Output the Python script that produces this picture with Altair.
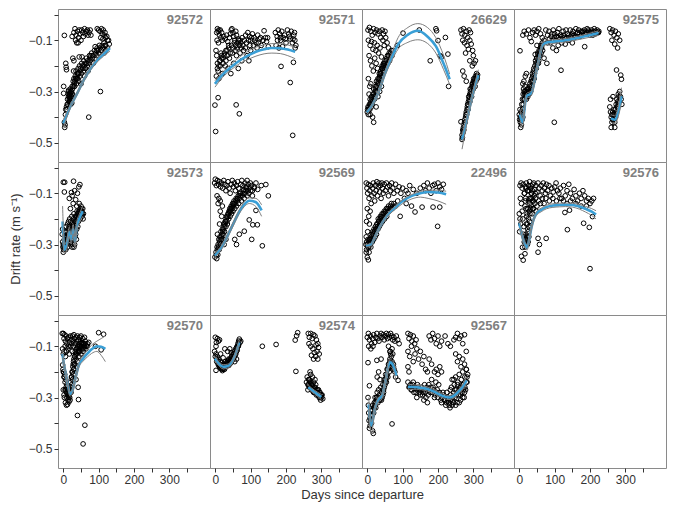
import altair as alt
import pandas as pd

ORDER = ["92572", "92571", "26629", "92575", "92573", "92569", "22496",
         "92576", "92570", "92574", "92567", "blank"]

X_TICKS = [0, 50, 100, 150, 200, 250, 300, 350]
Y_TICKS = [0.0, -0.1, -0.2, -0.3, -0.4, -0.5]

# ---------------- observed points (day, drift rate) ----------------
P_92572 = [
    (25,-0.085),(30,-0.07),(33,-0.055),(36,-0.08),(38,-0.11),(40,-0.065),(43,-0.09),(45,-0.06),
    (47,-0.075),(50,-0.1),(52,-0.06),(55,-0.07),(57,-0.085),(60,-0.055),(62,-0.075),(65,-0.065),
    (68,-0.06),(70,-0.08),(73,-0.07),(76,-0.06),(78,-0.08),(42,-0.11),(35,-0.1),
    (96,-0.055),(100,-0.06),(104,-0.065),(108,-0.055),(110,-0.075),(113,-0.06),(116,-0.08),(118,-0.07),
    (120,-0.09),(123,-0.085),(125,-0.1),(128,-0.1),(130,-0.115),(112,-0.095),(106,-0.09),(102,-0.12),
    (96,-0.13),(90,-0.125),(115,-0.11),(120,-0.12),(125,-0.13),
    (3,-0.081),(1,-0.28),(1,-0.307),(7,-0.19),(8,-0.205),(9,-0.215),
    (3,-0.42),(4,-0.44),(5,-0.43),(6,-0.39),(7,-0.37),(9,-0.36),(11,-0.35),(12,-0.33),(14,-0.31),
    (15,-0.32),(16,-0.3),(17,-0.33),(18,-0.34),(19,-0.31),(20,-0.29),(21,-0.35),(22,-0.32),(23,-0.3),
    (25,-0.28),(26,-0.31),(24,-0.345),(28,-0.26),(30,-0.25),(32,-0.28),(34,-0.24),(36,-0.22),(38,-0.25),
    (40,-0.23),(42,-0.21),(44,-0.26),(46,-0.2),(48,-0.22),(50,-0.27),(52,-0.19),(55,-0.21),(58,-0.18),
    (60,-0.24),(62,-0.19),(65,-0.17),(68,-0.2),(70,-0.22),(72,-0.4),(74,-0.16),(76,-0.18),(80,-0.15),
    (82,-0.17),(85,-0.19),(88,-0.14),(92,-0.15),(95,-0.16),(98,-0.14),(105,-0.3),(108,-0.14),(110,-0.12),
    (115,-0.15),(120,-0.14),(27,-0.17),(30,-0.18),(45,-0.165),(53,-0.165),(29,-0.22),
]
E_92572 = [
    (10,-0.37),(13,-0.35),(16,-0.34),(18,-0.32),(20,-0.33),(22,-0.3),(24,-0.31),(26,-0.29),(28,-0.28),
    (31,-0.27),(33,-0.26),(35,-0.25),(37,-0.27),(39,-0.24),(41,-0.25),(43,-0.23),(47,-0.24),(49,-0.21),
    (51,-0.23),(54,-0.2),(57,-0.22),(59,-0.2),(63,-0.21),(66,-0.19),(69,-0.18),(72,-0.19),(75,-0.17),
    (78,-0.16),(84,-0.16),(90,-0.17),(94,-0.14),(100,-0.15),(104,-0.13),(112,-0.13),(118,-0.12),
    (15,-0.295),(17,-0.31),(19,-0.325),(21,-0.305),(23,-0.32),
]
P_92571 = [
    (4,-0.07),(6,-0.055),(8,-0.065),(10,-0.06),(12,-0.08),(14,-0.06),(16,-0.09),(18,-0.07),(5,-0.1),
    (9,-0.11),(20,-0.1),(24,-0.085),(28,-0.095),(32,-0.08),(35,-0.105),(38,-0.12),(40,-0.09),(43,-0.075),
    (45,-0.06),(47,-0.055),(50,-0.07),(52,-0.085),(55,-0.1),(58,-0.065),(60,-0.08),(62,-0.11),(65,-0.095),
    (68,-0.12),(70,-0.1),(73,-0.13),
    (2,-0.14),(4,-0.16),(6,-0.19),(8,-0.22),(10,-0.25),(3,-0.24),(12,-0.18),(14,-0.2),(16,-0.15),
    (18,-0.17),(20,-0.23),(22,-0.19),(25,-0.16),(28,-0.2),(30,-0.18),(33,-0.14),(36,-0.21),(40,-0.17),
    (44,-0.23),(48,-0.15),(52,-0.19),(56,-0.14),(60,-0.16),(65,-0.21),(70,-0.15),(75,-0.18),(80,-0.14),
    (85,-0.13),(90,-0.16),(95,-0.18),(100,-0.14),(78,-0.12),(88,-0.11),
    (92,-0.07),(97,-0.085),(100,-0.1),(105,-0.075),(110,-0.09),(115,-0.11),(120,-0.08),(125,-0.095),
    (130,-0.12),(138,-0.063),(145,-0.105),(150,-0.125),(108,-0.12),(118,-0.13),
    (170,-0.07),(175,-0.085),(178,-0.06),(182,-0.075),(185,-0.1),(188,-0.065),(192,-0.09),(196,-0.08),
    (200,-0.11),(204,-0.06),(208,-0.075),(212,-0.095),(215,-0.065),(218,-0.11),(222,-0.08),(225,-0.1),
    (228,-0.12),(226,-0.13),(172,-0.12),(180,-0.13),(190,-0.125),
    (-1,-0.353),(8,-0.324),(59,-0.352),(68,-0.387),(1,-0.456),(219,-0.471),(212,-0.265),(186,-0.202),
    (221,-0.186),
]
E_92571 = [
    (6,-0.21),(10,-0.2),(14,-0.18),(18,-0.16),(22,-0.17),(26,-0.15),(30,-0.14),(34,-0.16),(38,-0.13),
    (42,-0.15),(46,-0.12),(50,-0.13),(54,-0.11),(58,-0.12),(62,-0.13),(66,-0.1),(72,-0.11),(76,-0.09),
    (82,-0.1),(86,-0.08),(94,-0.1),(98,-0.12),(102,-0.09),(112,-0.1),(122,-0.11),(128,-0.09),(135,-0.1),
    (142,-0.09),(148,-0.09),(176,-0.1),(184,-0.09),(198,-0.095),(210,-0.085),(220,-0.095),(224,-0.07),
]
P_26629 = [
    (2,-0.06),(6,-0.05),(10,-0.065),(14,-0.08),(18,-0.055),(22,-0.07),(26,-0.06),(30,-0.075),(34,-0.065),
    (38,-0.09),(3,-0.1),(8,-0.12),(12,-0.105),(16,-0.135),(20,-0.11),(24,-0.14),(28,-0.12),(32,-0.15),
    (36,-0.13),(40,-0.165),(5,-0.16),(9,-0.18),(13,-0.2),(17,-0.22),(21,-0.17),(25,-0.19),(29,-0.21),
    (44,-0.1),(48,-0.12),(52,-0.09),(56,-0.11),(60,-0.13),(42,-0.06),(46,-0.075),(50,-0.065),(3,-0.25),
    (7,-0.28),(5,-0.31),(10,-0.27),
    (0,-0.38),(2,-0.36),(4,-0.37),(6,-0.35),(8,-0.33),(10,-0.34),(12,-0.32),(14,-0.35),(16,-0.31),
    (18,-0.29),(20,-0.33),(22,-0.3),(24,-0.28),(26,-0.26),(28,-0.3),(30,-0.25),(32,-0.27),(34,-0.23),
    (36,-0.25),(38,-0.22),(40,-0.24),(42,-0.2),(44,-0.22),(46,-0.19),(48,-0.21),(50,-0.18),(52,-0.2),
    (55,-0.17),(58,-0.19),(60,-0.16),(63,-0.18),(66,-0.15),(70,-0.16),(73,-0.14),(15,-0.4),(18,-0.42),
    (8,-0.39),(25,-0.36),(30,-0.32),(35,-0.3),(40,-0.28),
    (85,-0.12),(101,-0.072),(147,-0.06),(194,-0.055),(196,-0.063),(200,-0.101),(221,-0.089),(178,-0.18),
    (206,-0.16),(228,-0.154),(230,-0.28),(210,-0.165),
    (265,-0.06),(268,-0.075),(272,-0.055),(276,-0.08),(280,-0.065),(284,-0.09),(288,-0.06),(292,-0.07),
    (270,-0.1),(275,-0.11),(282,-0.12),(290,-0.1),(294,-0.115),(298,-0.14),(300,-0.16),(302,-0.19),
    (306,-0.18),(286,-0.135),(278,-0.15),(290,-0.18),(297,-0.2),(270,-0.22),(274,-0.24),(280,-0.26),
    (268,-0.487),(268,-0.47),(270,-0.45),(272,-0.44),(274,-0.43),(276,-0.41),(278,-0.4),(280,-0.38),
    (282,-0.37),(284,-0.35),(286,-0.34),(288,-0.33),(290,-0.31),(292,-0.3),(294,-0.29),(296,-0.28),
    (298,-0.27),(300,-0.26),(302,-0.26),(304,-0.25),(306,-0.24),(308,-0.25),(310,-0.24),(312,-0.235),
    (285,-0.37),(290,-0.34),(295,-0.32),(300,-0.29),(305,-0.28),(265,-0.418),
]
E_26629 = [
    (1,-0.37),(3,-0.39),(5,-0.36),(7,-0.37),(9,-0.35),(11,-0.36),(13,-0.33),(15,-0.34),(17,-0.32),
    (19,-0.31),(21,-0.32),(23,-0.29),(25,-0.3),(27,-0.28),(29,-0.27),(31,-0.26),(33,-0.25),(35,-0.24),
    (37,-0.23),(39,-0.23),(41,-0.21),(43,-0.21),(45,-0.2),(47,-0.2),(49,-0.19),(54,-0.18),(57,-0.16),
    (62,-0.15),(68,-0.14),
    (269,-0.48),(271,-0.46),(273,-0.45),(275,-0.42),(277,-0.42),(279,-0.39),(281,-0.39),(283,-0.36),
    (285,-0.35),(287,-0.32),(289,-0.32),(291,-0.29),(293,-0.31),(297,-0.27),(299,-0.28),(301,-0.25),
    (303,-0.27),(307,-0.26),(309,-0.23),(311,-0.25),
]
P_92575 = [
    (0,-0.39),(1,-0.41),(3,-0.42),(4,-0.44),(6,-0.43),(8,-0.41),(10,-0.4),(2,-0.37),(5,-0.38),(7,-0.35),
    (9,-0.33),(11,-0.31),(12,-0.29),(14,-0.3),(16,-0.28),(18,-0.31),(20,-0.33),(22,-0.3),(24,-0.32),
    (26,-0.29),(28,-0.31),(30,-0.27),(32,-0.3),(34,-0.28),(13,-0.26),(17,-0.24),(20,-0.23),(10,-0.27),
    (15,-0.33),
    (36,-0.26),(38,-0.24),(40,-0.22),(42,-0.25),(44,-0.2),(46,-0.18),(48,-0.21),(50,-0.17),(52,-0.15),
    (54,-0.19),(56,-0.14),(58,-0.16),(60,-0.13),(62,-0.15),(64,-0.12),(66,-0.14),(45,-0.155),(55,-0.18),
    (70,-0.17),(78,-0.19),(50,-0.12),
    (2,-0.141),(10,-0.08),(14,-0.065),(20,-0.075),(26,-0.06),(30,-0.09),(34,-0.105),(38,-0.07),(42,-0.06),
    (46,-0.08),(50,-0.065),(55,-0.055),(60,-0.075),(65,-0.09),(70,-0.1),(75,-0.06),(80,-0.08),(84,-0.065),
    (88,-0.11),(92,-0.075),(96,-0.06),(100,-0.09),(104,-0.1),(108,-0.07),(112,-0.055),(116,-0.08),
    (120,-0.11),(124,-0.065),(128,-0.09),(132,-0.06),(136,-0.075),(140,-0.1),(144,-0.06),(148,-0.08),
    (152,-0.065),(156,-0.09),(160,-0.055),(164,-0.075),(168,-0.06),(172,-0.085),(176,-0.065),(180,-0.07),
    (184,-0.06),(188,-0.075),(192,-0.055),(196,-0.065),(200,-0.07),(204,-0.06),(208,-0.08),(212,-0.055),
    (216,-0.065),(220,-0.06),(224,-0.07),(185,-0.125),(110,-0.12),(95,-0.13),(130,-0.115),(150,-0.11),
    (105,-0.14),(80,-0.11),(118,-0.217),(99,-0.42),
    (256,-0.055),(260,-0.07),(264,-0.06),(268,-0.08),(272,-0.065),(276,-0.09),(280,-0.075),(284,-0.1),
    (262,-0.1),(270,-0.115),(278,-0.13),(275,-0.216),(287,-0.236),(289,-0.252),
    (256,-0.36),(258,-0.38),(260,-0.4),(262,-0.42),(264,-0.41),(266,-0.39),(268,-0.4),(270,-0.42),
    (272,-0.37),(274,-0.35),(276,-0.33),(278,-0.36),(280,-0.31),(282,-0.34),(284,-0.3),(286,-0.32),
    (288,-0.33),(260,-0.44),(270,-0.44),(290,-0.35),(258,-0.33),(265,-0.32),
]
E_92575 = [
    (85,-0.095),(90,-0.085),(95,-0.1),(100,-0.075),(105,-0.085),(110,-0.09),(115,-0.095),(120,-0.085),
    (125,-0.08),(130,-0.095),(135,-0.09),(140,-0.08),(145,-0.085),(150,-0.075),(155,-0.08),(160,-0.085),
    (165,-0.07),(170,-0.075),(175,-0.08),(180,-0.065),(185,-0.075),(190,-0.07),(195,-0.06),(200,-0.08),
    (205,-0.07),(210,-0.065),(215,-0.075),(220,-0.07),(225,-0.065),
    (3,-0.4),(5,-0.41),(7,-0.39),(9,-0.37),(11,-0.35),(13,-0.33),(15,-0.31),(17,-0.3),(19,-0.32),
    (21,-0.31),(23,-0.29),(25,-0.31),(27,-0.3),(29,-0.28),(31,-0.29),(33,-0.26),(35,-0.25),(37,-0.23),
    (39,-0.26),(41,-0.21),(43,-0.23),(47,-0.19),(49,-0.17),(51,-0.19),(53,-0.16),(57,-0.15),(59,-0.14),
    (61,-0.12),(63,-0.13),(65,-0.11),
    (262,-0.39),(264,-0.38),(266,-0.41),(268,-0.37),(270,-0.39),(272,-0.4),(274,-0.38),(276,-0.36),
    (278,-0.34),(280,-0.35),(282,-0.32),
]
P_92573 = [
    (0,-0.057),(4,-0.057),(3,-0.095),(29,-0.053),(47,-0.066),(23,-0.097),(17,-0.12),(25,-0.11),(32,-0.09),
    (40,-0.1),(44,-0.075),(35,-0.125),(28,-0.14),(20,-0.16),(38,-0.15),(45,-0.14),(50,-0.15),(52,-0.17),
    (55,-0.16),(57,-0.18),
    (-3,-0.26),(-2,-0.29),(-1,-0.31),(0,-0.33),(1,-0.32),(2,-0.3),(3,-0.28),(4,-0.31),(5,-0.27),(6,-0.25),
    (7,-0.29),(8,-0.23),(9,-0.27),(10,-0.3),(11,-0.25),(12,-0.22),(13,-0.28),(14,-0.24),(15,-0.21),
    (16,-0.26),(17,-0.23),(18,-0.2),(19,-0.27),(20,-0.24),(21,-0.21),(22,-0.29),(23,-0.25),(24,-0.19),
    (25,-0.22),(26,-0.3),(27,-0.26),(28,-0.2),(29,-0.23),(30,-0.18),(31,-0.27),(32,-0.3),(33,-0.21),
    (34,-0.25),(35,-0.19),(36,-0.22),(37,-0.28),(38,-0.24),(39,-0.17),(40,-0.2),(41,-0.23),(42,-0.18),
    (43,-0.21),(44,-0.19),(46,-0.17),(48,-0.2),(50,-0.18),(53,-0.19),(56,-0.2),(7,-0.32),(12,-0.31),
    (25,-0.31),(30,-0.31),(-2,-0.24),
]
E_92573 = [
    (0,-0.3),(2,-0.31),(4,-0.29),(6,-0.3),(8,-0.28),(10,-0.27),(12,-0.26),(14,-0.27),(16,-0.28),
    (18,-0.25),(20,-0.27),(22,-0.26),(24,-0.24),(26,-0.23),(28,-0.25),(30,-0.22),(32,-0.24),(34,-0.2),
    (36,-0.21),(38,-0.19),(40,-0.18),(42,-0.2),(44,-0.17),(46,-0.19),(48,-0.16),(50,-0.17),(52,-0.16),
    (54,-0.18),(5,-0.3),(9,-0.29),(15,-0.29),(19,-0.29),(23,-0.28),(27,-0.28),(33,-0.27),(35,-0.26),
]
P_92569 = [
    (-2,-0.06),(0,-0.045),(3,-0.07),(6,-0.05),(9,-0.065),(12,-0.055),(15,-0.075),(18,-0.06),(21,-0.08),
    (24,-0.05),(27,-0.065),(30,-0.09),(33,-0.07),(36,-0.055),(39,-0.08),(42,-0.1),(45,-0.065),(48,-0.05),
    (51,-0.075),(54,-0.06),(57,-0.09),(60,-0.07),(63,-0.055),(66,-0.08),(69,-0.1),(72,-0.065),(75,-0.05),
    (78,-0.07),(81,-0.085),(84,-0.06),(87,-0.075),(90,-0.05),(93,-0.065),(96,-0.08),(99,-0.06),(102,-0.07),
    (105,-0.09),(110,-0.075),(115,-0.06),(120,-0.085),(130,-0.07),(143,-0.066),(150,-0.11),(5,-0.11),
    (10,-0.12),(14,-0.13),(20,-0.15),
    (-1,-0.349),(4,-0.355),(2,-0.33),(5,-0.31),(7,-0.34),(8,-0.3),(10,-0.28),(11,-0.32),(13,-0.27),
    (15,-0.3),(16,-0.25),(18,-0.28),(20,-0.24),(22,-0.26),(24,-0.22),(26,-0.25),(28,-0.21),(30,-0.23),
    (32,-0.19),(34,-0.22),(36,-0.18),(38,-0.2),(40,-0.17),(42,-0.19),(44,-0.16),(46,-0.18),(48,-0.15),
    (50,-0.17),(52,-0.14),(55,-0.16),(58,-0.13),(60,-0.15),(63,-0.12),(66,-0.14),(70,-0.11),(74,-0.13),
    (78,-0.1),(82,-0.12),(86,-0.09),(90,-0.11),(95,-0.1),(100,-0.09),(105,-0.11),(110,-0.08),(12,-0.22),
    (18,-0.19),(25,-0.3),(30,-0.28),(6,-0.26),(14,-0.17),(8,-0.14),
    (96,-0.204),(106,-0.223),(119,-0.223),(82,-0.248),(68,-0.26),(55,-0.28),(103,-0.28),(133,-0.305),
    (115,-0.167),(60,-0.3),
]
E_92569 = [
    (3,-0.34),(6,-0.32),(9,-0.31),(12,-0.29),(14,-0.28),(17,-0.27),(19,-0.26),(21,-0.25),(23,-0.24),
    (25,-0.23),(27,-0.22),(29,-0.21),(31,-0.2),(33,-0.21),(35,-0.19),(37,-0.18),(39,-0.17),(41,-0.16),
    (43,-0.17),(45,-0.15),(47,-0.16),(49,-0.14),(51,-0.15),(53,-0.13),(56,-0.14),(59,-0.12),(62,-0.13),
    (65,-0.11),(68,-0.12),(72,-0.1),(76,-0.11),(80,-0.09),(84,-0.1),(88,-0.08),(92,-0.09),
]
P_22496 = [
    (-4,-0.3),(-3,-0.33),(-2,-0.32),(0,-0.35),(2,-0.31),(4,-0.29),(5,-0.33),(7,-0.3),(9,-0.28),(10,-0.31),
    (12,-0.27),(14,-0.29),(16,-0.26),(18,-0.28),(20,-0.25),(22,-0.27),(24,-0.24),(26,-0.26),(28,-0.22),
    (30,-0.24),(32,-0.21),(34,-0.23),(36,-0.2),(38,-0.22),(40,-0.19),(43,-0.21),(46,-0.18),(49,-0.2),
    (52,-0.17),(55,-0.19),(58,-0.16),(62,-0.17),(66,-0.15),(70,-0.16),(75,-0.14),(80,-0.15),(86,-0.13),
    (-3,-0.27),(1,-0.25),(6,-0.22),(3,-0.36),
    (-3,-0.06),(-1,-0.08),(1,-0.1),(3,-0.065),(5,-0.12),(7,-0.09),(9,-0.07),(11,-0.14),(13,-0.11),
    (15,-0.08),(17,-0.06),(19,-0.1),(21,-0.13),(23,-0.07),(25,-0.09),(27,-0.055),(29,-0.11),(31,-0.075),
    (33,-0.06),(35,-0.095),(37,-0.07),(39,-0.12),(41,-0.06),(43,-0.08),(45,-0.1),(48,-0.065),(51,-0.09),
    (54,-0.06),(57,-0.075),(60,-0.11),(63,-0.07),(66,-0.09),(69,-0.06),(72,-0.08),(75,-0.1),(80,-0.065),
    (85,-0.09),(90,-0.075),(95,-0.1),(100,-0.08),(105,-0.12),(110,-0.09),(115,-0.1),(120,-0.07),
    (130,-0.085),(140,-0.1),(150,-0.08),(160,-0.07),(165,-0.09),(170,-0.06),(175,-0.08),(180,-0.1),
    (185,-0.07),(190,-0.065),(195,-0.09),(200,-0.06),(205,-0.075),(210,-0.085),(215,-0.065),(0,-0.16),
    (4,-0.19),(8,-0.17),(-2,-0.21),
    (135,-0.173),(155,-0.154),(186,-0.154),(205,-0.154),(199,-0.229),(93,-0.19),(110,-0.14),(125,-0.15),
]
E_22496 = [
    (-2,-0.29),(0,-0.3),(2,-0.28),(4,-0.31),(6,-0.28),(8,-0.29),(11,-0.26),(13,-0.28),(15,-0.25),
    (17,-0.26),(19,-0.24),(21,-0.25),(23,-0.23),(25,-0.24),(27,-0.22),(29,-0.23),(31,-0.2),(33,-0.21),
    (35,-0.22),(37,-0.19),(39,-0.2),(42,-0.18),(45,-0.19),(48,-0.17),(51,-0.18),(54,-0.16),(57,-0.17),
    (60,-0.15),(64,-0.16),(68,-0.14),(73,-0.15),
]
P_92576 = [
    (2,-0.07),(5,-0.06),(8,-0.08),(11,-0.065),(14,-0.1),(17,-0.075),(20,-0.06),(23,-0.09),(26,-0.07),
    (29,-0.055),(32,-0.08),(35,-0.1),(38,-0.065),(41,-0.06),(44,-0.085),(47,-0.07),(50,-0.095),(53,-0.06),
    (56,-0.08),(59,-0.11),(62,-0.07),(65,-0.09),(68,-0.06),(71,-0.08),(74,-0.1),(77,-0.065),(80,-0.09),
    (84,-0.07),(88,-0.11),(92,-0.08),(96,-0.095),(100,-0.075),(104,-0.06),(108,-0.09),(112,-0.1),
    (116,-0.08),(120,-0.12),(125,-0.07),(130,-0.11),(135,-0.09),(140,-0.065),(145,-0.1),(150,-0.12),
    (155,-0.085),(160,-0.11),(165,-0.13),(170,-0.1),(175,-0.12),(180,-0.09),(185,-0.11),(190,-0.13),
    (195,-0.12),(200,-0.14),(205,-0.13),(210,-0.12),(3,-0.12),(6,-0.14),(0,-0.18),(2,-0.2),(4,-0.22),
    (1,-0.25),
    (15,-0.1),(17,-0.13),(19,-0.16),(21,-0.19),(23,-0.22),(25,-0.25),(18,-0.28),(20,-0.3),(22,-0.27),
    (24,-0.24),(26,-0.2),(28,-0.17),(30,-0.14),(32,-0.12),(34,-0.15),(36,-0.18),(38,-0.13),(40,-0.16),
    (42,-0.11),(44,-0.14),(46,-0.12),(48,-0.17),(50,-0.15),(12,-0.26),(14,-0.29),(16,-0.31),(27,-0.23),
    (29,-0.21),(10,-0.2),(8,-0.17),
    (9,-0.311),(6,-0.346),(11,-0.361),(16,-0.336),(53,-0.33),(57,-0.3),(53,-0.276),(76,-0.276),
    (136,-0.242),(182,-0.217),(198,-0.233),(200,-0.394),(129,-0.175),(142,-0.166),(207,-0.191),
]
E_92576 = [
    (13,-0.23),(15,-0.27),(17,-0.29),(19,-0.26),(21,-0.28),(23,-0.3),(25,-0.29),(27,-0.27),(20,-0.22),
    (22,-0.18),(24,-0.16),(26,-0.13),(28,-0.12),(30,-0.18),(32,-0.16),(34,-0.1),(36,-0.12),(38,-0.16),
    (40,-0.13),(18,-0.12),(16,-0.15),(20,-0.08),(24,-0.09),(28,-0.09),(33,-0.07),(37,-0.09),(45,-0.1),
    (55,-0.13),(60,-0.14),(65,-0.12),(70,-0.14),(75,-0.12),(85,-0.13),(95,-0.12),(105,-0.13),(115,-0.12),
    (125,-0.13),(135,-0.14),(145,-0.13),(160,-0.14),(175,-0.15),(190,-0.15),
]
P_92570 = [
    (-3,-0.05),(0,-0.05),(2,-0.07),(4,-0.055),(6,-0.08),(8,-0.06),(10,-0.09),(12,-0.07),(14,-0.1),
    (16,-0.065),(18,-0.085),(20,-0.06),(22,-0.075),(24,-0.09),(26,-0.06),(28,-0.08),(30,-0.055),(32,-0.07),
    (34,-0.09),(36,-0.065),(38,-0.08),(40,-0.06),(42,-0.075),(44,-0.09),(46,-0.065),(48,-0.08),(50,-0.06),
    (52,-0.085),(55,-0.07),(58,-0.09),(60,-0.065),(62,-0.08),(65,-0.1),(68,-0.09),(72,-0.085),(-2,-0.11),
    (0,-0.13),(3,-0.12),(6,-0.14),(100,-0.047),(114,-0.053),(107,-0.114),(91,-0.1),
    (-2,-0.173),(-1,-0.19),(1,-0.2),(2,-0.22),(4,-0.21),(5,-0.24),(7,-0.23),(8,-0.26),(10,-0.25),
    (11,-0.27),(12,-0.29),(14,-0.28),(15,-0.3),(17,-0.29),(18,-0.27),(19,-0.31),(20,-0.26),(21,-0.24),
    (22,-0.28),(23,-0.22),(24,-0.25),(25,-0.2),(26,-0.23),(27,-0.18),(28,-0.21),(29,-0.16),(30,-0.19),
    (32,-0.14),(33,-0.17),(34,-0.12),(36,-0.15),(38,-0.13),(40,-0.16),(42,-0.11),(44,-0.14),(46,-0.12),
    (48,-0.1),(50,-0.13),(53,-0.11),(56,-0.12),(60,-0.1),(64,-0.11),(68,-0.1),(3,-0.3),(6,-0.32),
    (9,-0.33),(12,-0.327),(16,-0.317),(0,-0.27),(2,-0.29),
    (40,-0.37),(61,-0.408),(56,-0.481),(43,-0.308),(42,-0.26),(36,-0.23),
]
E_92570 = [
    (0,-0.2),(3,-0.22),(5,-0.27),(7,-0.27),(9,-0.28),(10,-0.3),(13,-0.31),(15,-0.27),(16,-0.29),
    (18,-0.3),(20,-0.28),(21,-0.27),(23,-0.26),(24,-0.22),(26,-0.2),(28,-0.17),(29,-0.19),(30,-0.15),
    (31,-0.17),(33,-0.14),(35,-0.13),(37,-0.11),(39,-0.12),(41,-0.1),(43,-0.12),(45,-0.1),(47,-0.11),
    (50,-0.09),(52,-0.1),(55,-0.09),(58,-0.11),(62,-0.09),(5,-0.1),(9,-0.12),(13,-0.11),(17,-0.13),
    (21,-0.1),(25,-0.12),(29,-0.1),
]
P_92574 = [
    (0,-0.065),(3,-0.085),(6,-0.07),(9,-0.08),(12,-0.075),(2,-0.1),(-2,-0.12),(0,-0.14),(2,-0.13),
    (4,-0.15),(6,-0.14),(8,-0.16),(10,-0.15),(12,-0.17),(14,-0.16),(16,-0.175),(18,-0.165),(20,-0.18),
    (22,-0.17),(24,-0.185),(26,-0.175),(28,-0.16),(30,-0.18),(32,-0.165),(34,-0.17),(36,-0.155),
    (38,-0.175),(40,-0.16),(42,-0.15),(44,-0.165),(46,-0.14),(48,-0.155),(50,-0.13),(52,-0.145),
    (54,-0.12),(56,-0.135),(58,-0.11),(60,-0.12),(62,-0.1),(64,-0.09),(66,-0.08),(68,-0.072),(70,-0.085),
    (72,-0.08),(2,-0.194),(27,-0.11),(41,-0.11),(35,-0.12),(15,-0.13),(22,-0.145),(45,-0.125),(55,-0.16),
    (60,-0.15),(65,-0.1),
    (133,-0.1),(172,-0.093),(228,-0.198),(226,-0.076),(230,-0.059),(233,-0.047),
    (263,-0.05),(266,-0.065),(270,-0.05),(274,-0.07),(278,-0.055),(282,-0.06),(286,-0.075),(290,-0.09),
    (265,-0.09),(270,-0.1),(276,-0.11),(280,-0.125),(284,-0.14),(288,-0.12),(292,-0.105),(294,-0.13),
    (272,-0.135),(278,-0.15),(290,-0.15),(285,-0.095),
    (258,-0.24),(260,-0.22),(262,-0.25),(264,-0.23),(266,-0.26),(268,-0.24),(270,-0.21),(272,-0.25),
    (274,-0.27),(276,-0.26),(278,-0.24),(280,-0.28),(282,-0.26),(284,-0.25),(286,-0.28),(288,-0.27),
    (290,-0.29),(292,-0.27),(294,-0.3),(296,-0.28),(298,-0.29),(300,-0.3),(302,-0.29),(304,-0.305),
    (268,-0.2),(275,-0.22),(282,-0.23),(262,-0.27),
]
E_92574 = [
    (4,-0.16),(8,-0.17),(10,-0.175),(12,-0.18),(14,-0.185),(16,-0.185),(18,-0.19),(20,-0.195),(22,-0.19),
    (24,-0.175),(26,-0.19),(28,-0.18),(30,-0.17),(32,-0.175),(34,-0.16),(36,-0.165),(38,-0.15),(40,-0.17),
    (42,-0.16),(44,-0.15),(46,-0.155),(48,-0.14),(50,-0.15),(52,-0.13),(54,-0.14),(56,-0.125),(58,-0.13),
    (60,-0.105),(62,-0.115),(64,-0.1),(66,-0.095),
    (264,-0.25),(268,-0.26),(270,-0.24),(272,-0.27),(276,-0.27),(278,-0.28),(280,-0.26),(284,-0.27),
    (286,-0.29),(288,-0.28),(290,-0.27),(292,-0.29),(294,-0.28),(296,-0.3),(298,-0.31),(300,-0.29),
    (266,-0.23),(274,-0.25),(282,-0.28),
]
P_92567 = [
    (0,-0.065),(3,-0.05),(6,-0.075),(9,-0.06),(12,-0.09),(15,-0.07),(18,-0.055),(21,-0.085),(24,-0.065),
    (27,-0.05),(30,-0.07),(33,-0.08),(36,-0.06),(39,-0.05),(42,-0.065),(45,-0.055),(48,-0.075),(51,-0.06),
    (54,-0.05),(57,-0.07),(60,-0.055),(63,-0.065),(66,-0.05),(69,-0.06),(72,-0.075),(75,-0.065),(78,-0.08),
    (82,-0.06),(86,-0.075),(90,-0.09),(4,-0.1),(10,-0.11),(16,-0.1),(2,-0.164),(6,-0.254),(27,-0.155),
    (39,-0.15),(70,-0.403),(17,-0.44),(15,-0.43),(87,-0.233),(60,-0.1),(65,-0.12),(70,-0.11),
    (2,-0.3),(3,-0.33),(4,-0.36),(5,-0.39),(6,-0.42),(8,-0.38),(10,-0.35),(12,-0.4),(14,-0.37),(16,-0.33),
    (18,-0.36),(20,-0.32),(22,-0.3),(24,-0.34),(26,-0.31),(28,-0.28),(30,-0.32),(32,-0.27),(34,-0.29),
    (36,-0.31),(38,-0.26),(40,-0.28),(42,-0.3),(44,-0.25),(46,-0.27),(48,-0.23),(50,-0.25),(52,-0.21),
    (54,-0.24),(56,-0.19),(58,-0.22),(60,-0.17),(62,-0.2),(64,-0.15),(66,-0.18),(68,-0.14),(70,-0.16),
    (72,-0.13),(74,-0.17),(76,-0.19),(78,-0.2),(80,-0.22),(66,-0.13),(64,-0.12),(28,-0.22),(32,-0.2),
    (36,-0.23),
    (115,-0.05),(118,-0.07),(122,-0.055),(126,-0.08),(130,-0.06),(134,-0.09),(138,-0.075),(115,-0.12),
    (120,-0.14),(125,-0.1),(130,-0.16),(135,-0.13),(140,-0.11),(145,-0.15),(150,-0.12),(155,-0.17),
    (160,-0.14),(165,-0.19),(175,-0.06),(180,-0.075),(185,-0.05),(190,-0.07),(195,-0.09),(200,-0.06),
    (205,-0.1),(210,-0.08),(220,-0.06),(228,-0.09),(235,-0.1),(245,-0.075),(250,-0.065),(255,-0.05),
    (260,-0.07),(265,-0.06),(270,-0.09),(275,-0.055),(280,-0.12),(250,-0.13),(255,-0.16),(260,-0.14),
    (265,-0.18),(270,-0.15),(275,-0.17),(280,-0.19),(115,-0.18),(118,-0.2),(175,-0.15),(182,-0.17),
    (190,-0.2),(195,-0.19),(200,-0.21),(205,-0.18),(210,-0.2),(170,-0.2),
    (115,-0.24),(118,-0.26),(122,-0.25),(126,-0.27),(130,-0.24),(134,-0.26),(138,-0.28),(142,-0.25),
    (146,-0.27),(150,-0.29),(154,-0.26),(158,-0.28),(162,-0.25),(166,-0.3),(170,-0.27),(174,-0.25),
    (178,-0.28),(182,-0.23),(186,-0.26),(190,-0.3),(194,-0.24),(198,-0.27),(202,-0.25),(206,-0.29),
    (210,-0.32),(214,-0.28),(218,-0.31),(222,-0.33),(226,-0.3),(230,-0.32),(234,-0.34),(236,-0.29),
    (238,-0.26),(240,-0.23),(242,-0.31),(244,-0.28),(246,-0.25),(248,-0.3),(250,-0.22),(252,-0.27),
    (254,-0.32),(256,-0.24),(258,-0.29),(260,-0.21),(262,-0.26),(264,-0.31),(266,-0.23),(268,-0.28),
    (270,-0.2),(272,-0.25),(274,-0.3),(276,-0.22),(278,-0.27),(280,-0.19),(282,-0.24),(284,-0.21),
    (240,-0.33),(250,-0.33),(260,-0.32),(170,-0.32),(160,-0.31),(140,-0.3),
]
E_92567 = [
    (8,-0.41),(10,-0.39),(12,-0.37),(14,-0.35),(18,-0.34),(20,-0.34),(22,-0.33),(24,-0.32),(26,-0.3),
    (30,-0.3),(34,-0.31),(38,-0.3),(40,-0.31),(44,-0.29),(46,-0.28),(48,-0.26),(50,-0.24),(52,-0.23),
    (54,-0.22),(56,-0.21),(58,-0.19),(60,-0.18),(62,-0.17),(64,-0.16),(66,-0.16),(68,-0.17),(70,-0.18),
    (72,-0.19),(74,-0.18),
    (120,-0.26),(124,-0.27),(128,-0.25),(132,-0.28),(136,-0.26),(140,-0.27),(144,-0.26),(148,-0.28),
    (152,-0.27),(156,-0.29),(160,-0.27),(164,-0.28),(168,-0.26),(172,-0.29),(176,-0.27),(180,-0.26),
    (184,-0.28),(188,-0.27),(192,-0.29),(196,-0.28),(200,-0.3),(204,-0.28),(208,-0.31),(212,-0.3),
    (216,-0.29),(220,-0.31),(224,-0.32),(228,-0.31),(232,-0.33),(236,-0.31),(240,-0.3),(244,-0.32),
    (248,-0.27),(252,-0.29),(256,-0.28),(260,-0.27),(264,-0.29),(268,-0.25),(272,-0.27),(276,-0.26),
    (280,-0.24),(282,-0.22),(270,-0.3),(275,-0.28),(265,-0.26),(255,-0.25),(245,-0.23),(235,-0.27),
    (225,-0.28),
]

# ---------------- fitted curves: (days, fit, upper, lower) per segment ----------------
F_92572 = [([0, 21, 40, 58, 77, 95, 114, 132],
            [-0.425, -0.355, -0.305, -0.255, -0.211, -0.179, -0.154, -0.131],
            [-0.41, -0.348, -0.299, -0.249, -0.205, -0.172, -0.146, -0.12],
            [-0.44, -0.362, -0.311, -0.261, -0.217, -0.186, -0.162, -0.142])]
F_92571 = [([-1, 20, 45, 70, 92, 115, 138, 160, 184, 205, 226],
            [-0.27, -0.235, -0.204, -0.178, -0.16, -0.145, -0.135, -0.13, -0.131, -0.136, -0.145],
            [-0.258, -0.225, -0.193, -0.164, -0.143, -0.127, -0.118, -0.113, -0.113, -0.118, -0.128],
            [-0.283, -0.246, -0.215, -0.19, -0.175, -0.162, -0.153, -0.15, -0.152, -0.16, -0.172])]
F_26629 = [([-1, 13, 31, 50, 69, 87, 115, 143, 170, 194, 216, 233],
            [-0.38, -0.355, -0.305, -0.23, -0.167, -0.116, -0.078, -0.063, -0.085, -0.123, -0.192, -0.252],
            [-0.375, -0.35, -0.298, -0.222, -0.152, -0.09, -0.05, -0.035, -0.05, -0.09, -0.16, -0.232],
            [-0.39, -0.362, -0.31, -0.238, -0.18, -0.135, -0.108, -0.098, -0.112, -0.15, -0.215, -0.272]),
           ([268, 281, 295, 314],
            [-0.487, -0.415, -0.33, -0.236],
            [-0.47, -0.4, -0.318, -0.215],
            [-0.525, -0.43, -0.342, -0.25])]
F_92575 = [([2, 9, 20, 34, 50, 67, 80, 122, 169, 224],
            [-0.39, -0.42, -0.318, -0.307, -0.21, -0.116, -0.108, -0.102, -0.09, -0.072],
            [-0.37, -0.405, -0.308, -0.298, -0.2, -0.108, -0.1, -0.095, -0.083, -0.063],
            [-0.41, -0.435, -0.328, -0.316, -0.22, -0.124, -0.116, -0.109, -0.097, -0.081]),
           ([259, 270, 289],
            [-0.405, -0.41, -0.318],
            [-0.39, -0.395, -0.285],
            [-0.42, -0.425, -0.345])]
F_92573 = [([-2, 3, 10, 17, 22, 28, 33, 38, 45, 55],
            [-0.21, -0.32, -0.3, -0.25, -0.28, -0.24, -0.29, -0.23, -0.2, -0.17],
            [-0.15, -0.3, -0.28, -0.232, -0.262, -0.222, -0.27, -0.212, -0.183, -0.15],
            [-0.26, -0.335, -0.318, -0.268, -0.298, -0.258, -0.31, -0.248, -0.218, -0.19])]
F_92569 = [([-1, 18, 45, 73, 96, 115, 131],
            [-0.343, -0.311, -0.236, -0.16, -0.129, -0.135, -0.167],
            [-0.335, -0.303, -0.228, -0.152, -0.118, -0.12, -0.145],
            [-0.35, -0.318, -0.244, -0.168, -0.14, -0.152, -0.19])]
F_22496 = [([-4, 10, 25, 40, 60, 80, 100, 126, 150, 172, 200, 223],
            [-0.305, -0.3, -0.26, -0.22, -0.18, -0.155, -0.13, -0.11, -0.1, -0.095, -0.097, -0.104],
            [-0.3, -0.295, -0.255, -0.215, -0.175, -0.15, -0.125, -0.105, -0.093, -0.088, -0.088, -0.092],
            [-0.31, -0.305, -0.265, -0.226, -0.186, -0.162, -0.14, -0.122, -0.115, -0.12, -0.13, -0.143])]
F_92576 = [([0, 8, 16, 22, 28, 34, 41, 48, 62, 76, 95, 113, 130, 150, 170, 187, 205, 217],
            [-0.217, -0.265, -0.299, -0.311, -0.28, -0.236, -0.2, -0.18, -0.165, -0.154, -0.148, -0.146,
             -0.145, -0.146, -0.152, -0.161, -0.172, -0.183],
            [-0.2, -0.255, -0.29, -0.3, -0.27, -0.228, -0.193, -0.173, -0.158, -0.147, -0.141, -0.139,
             -0.138, -0.139, -0.144, -0.151, -0.16, -0.168],
            [-0.235, -0.277, -0.31, -0.322, -0.29, -0.245, -0.208, -0.187, -0.172, -0.161, -0.155, -0.153,
             -0.152, -0.154, -0.162, -0.173, -0.187, -0.2])]
F_92570 = [([-2, 0, 6, 12, 19, 26, 35, 44, 56, 68, 80, 95, 107, 119],
            [-0.13, -0.154, -0.2, -0.242, -0.286, -0.273, -0.22, -0.173, -0.148, -0.129, -0.112, -0.1, -0.102, -0.11],
            [-0.115, -0.14, -0.19, -0.235, -0.278, -0.265, -0.212, -0.165, -0.138, -0.115, -0.095, -0.08, -0.07, -0.06],
            [-0.145, -0.17, -0.21, -0.25, -0.295, -0.282, -0.23, -0.182, -0.158, -0.142, -0.128, -0.12, -0.135, -0.16])]
F_92574 = [([-1, 10, 22, 34, 45, 56, 68],
            [-0.148, -0.168, -0.18, -0.178, -0.166, -0.135, -0.085],
            [-0.14, -0.16, -0.172, -0.17, -0.158, -0.126, -0.074],
            [-0.157, -0.176, -0.188, -0.186, -0.174, -0.144, -0.096]),
           ([263, 280, 300],
            [-0.26, -0.278, -0.298],
            [-0.252, -0.271, -0.288],
            [-0.268, -0.285, -0.308])]
F_92567 = [([4, 11, 22, 31, 41, 50, 64, 73, 82],
            [-0.327, -0.409, -0.34, -0.308, -0.296, -0.245, -0.163, -0.175, -0.214],
            [-0.3, -0.395, -0.33, -0.3, -0.286, -0.232, -0.15, -0.16, -0.19],
            [-0.345, -0.44, -0.352, -0.318, -0.306, -0.258, -0.178, -0.19, -0.24]),
           ([115, 140, 170, 190, 207, 231, 254, 270, 281],
            [-0.258, -0.26, -0.267, -0.278, -0.29, -0.3, -0.283, -0.258, -0.233],
            [-0.248, -0.252, -0.259, -0.27, -0.282, -0.292, -0.274, -0.248, -0.22],
            [-0.268, -0.268, -0.275, -0.286, -0.298, -0.308, -0.292, -0.268, -0.246])]

POINTS = {"92572": P_92572 + E_92572, "92571": P_92571 + E_92571, "26629": P_26629 + E_26629,
          "92575": P_92575 + E_92575, "92573": P_92573 + E_92573, "92569": P_92569 + E_92569,
          "22496": P_22496 + E_22496, "92576": P_92576 + E_92576, "92570": P_92570 + E_92570,
          "92574": P_92574 + E_92574, "92567": P_92567 + E_92567}
FITS = {"92572": F_92572, "92571": F_92571, "26629": F_26629, "92575": F_92575,
        "92573": F_92573, "92569": F_92569, "22496": F_22496, "92576": F_92576,
        "92570": F_92570, "92574": F_92574, "92567": F_92567}


def panel_frame(pid):
    rows = []
    for d, v in POINTS.get(pid, []):
        rows.append({"kind": "pt", "grp": "pt", "day": d, "y": v, "label": ""})
    for i, (days, fit, hi, lo) in enumerate(FITS.get(pid, [])):
        for kind, arr in (("blue", fit), ("hi", hi), ("lo", lo)):
            for d, v in zip(days, arr):
                rows.append({"kind": kind, "grp": f"{kind}{i}", "day": d, "y": v, "label": ""})
    rows.append({"kind": "label", "grp": "label", "day": 0, "y": 0,
                 "label": "" if pid == "blank" else pid})
    return pd.DataFrame(rows)


W, H = 152, 153
XSCALE = alt.Scale(domain=[-15, 415], nice=False, zero=False)
YSCALE = alt.Scale(domain=[-0.575, 0.022], nice=False, zero=False)


def make_panel(pid, col, row):
    if row == 2:
        x_axis = alt.Axis(values=X_TICKS, labelExpr="datum.value % 100 == 0 ? datum.label : ''",
                          title=None)
    else:
        x_axis = None
    if col == 0:
        y_axis = alt.Axis(values=Y_TICKS, format=".1f",
                          labelExpr="abs(round(datum.value * 10)) % 2 == 1 ? datum.label : ''",
                          title="Drift rate (m s⁻¹)" if row == 1 else "", titlePadding=6)
    else:
        y_axis = None
    x_enc = alt.X("day:Q", scale=XSCALE, axis=x_axis)
    y_enc = alt.Y("y:Q", scale=YSCALE, axis=y_axis)
    base = alt.Chart(panel_frame(pid))
    if pid == "blank":
        pts = base.mark_point(shape="circle", filled=False, color="black", size=18,
                              opacity=0).encode(x=x_enc, y=y_enc)
        return alt.layer(pts).properties(width=W, height=H)
    pts = base.mark_point(shape="circle", filled=False, color="black", size=22,
                          strokeWidth=1, opacity=1).encode(
        x=x_enc, y=y_enc).transform_filter("datum.kind == 'pt'")
    blue = base.mark_line(color="#3a9fd6", strokeWidth=2.6, interpolate="monotone").encode(
        x=x_enc, y=y_enc, detail="grp:N").transform_filter("datum.kind == 'blue'")
    gray = base.mark_line(color="#808080", strokeWidth=1, interpolate="monotone").encode(
        x=x_enc, y=y_enc, detail="grp:N").transform_filter(
        "datum.kind == 'hi' || datum.kind == 'lo'")
    lab = base.mark_text(align="right", baseline="alphabetic", fontWeight="bold", fontSize=13,
                         color="#808080", font="Arial").encode(
        x=alt.value(W - 7), y=alt.value(15), text="label:N").transform_filter(
        "datum.kind == 'label'")
    return alt.layer(pts, blue, gray, lab).properties(width=W, height=H)


cells = [make_panel(ORDER[r * 4 + c], c, r) for r in range(3) for c in range(4)]

chart = alt.concat(*cells, columns=4, spacing=0, bounds="flush").properties(
    padding=0,
    title=alt.TitleParams("Days since departure", orient="bottom", anchor="middle",
                          fontSize=13, fontWeight="normal", font="Arial", color="#333333",
                          offset=3, dx=25)
).configure_view(
    stroke="#8a8a8a", strokeWidth=1
).configure_axis(
    labelFont="Arial", titleFont="Arial", labelFontSize=12, titleFontSize=13,
    labelColor="#333333", titleColor="#333333", tickColor="#333333",
    titleFontWeight="normal", domain=False, grid=False, tickSize=4, labelPadding=2
)

chart.save("out.html", embed_options={"renderer": "svg", "actions": False})
